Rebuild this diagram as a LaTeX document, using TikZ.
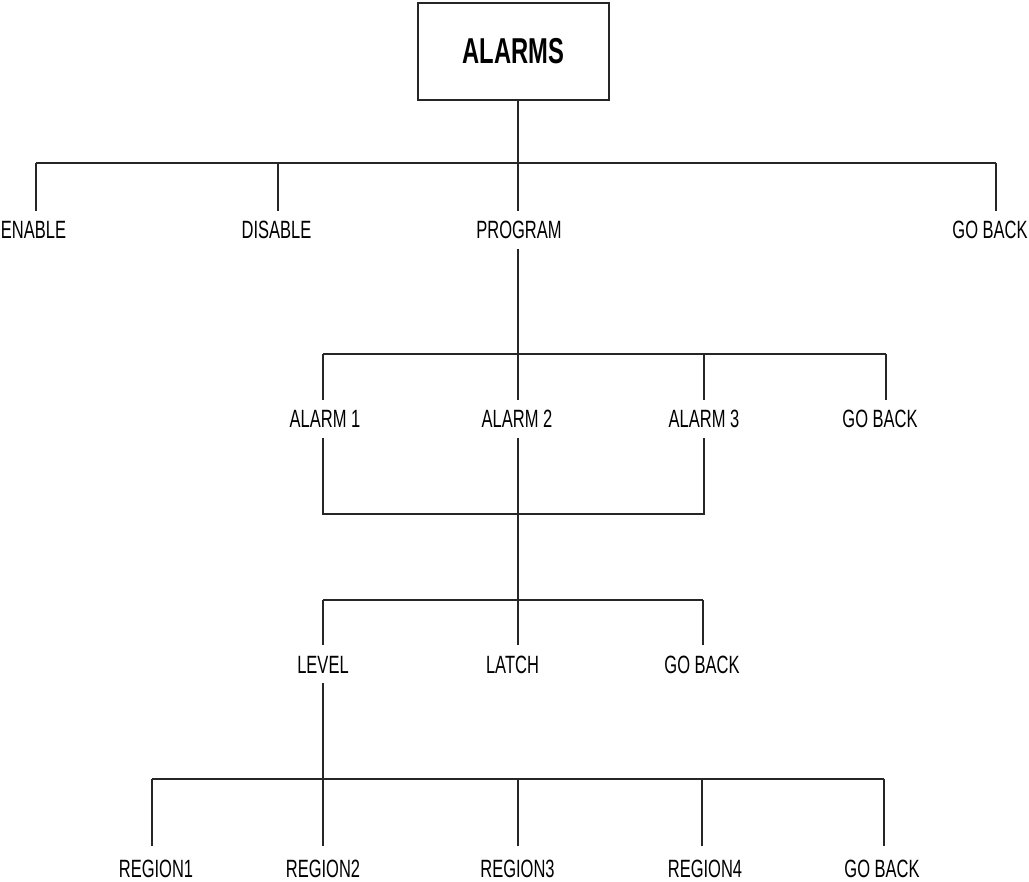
\documentclass[tikz,border=0pt]{standalone}
\usepackage{fontspec}
\setmainfont{Liberation Sans}[FakeStretch=0.66]
\begin{document}
\begin{tikzpicture}[x=1pt,y=-1pt,
  wire/.style={draw=black!85, line width=1.3pt},
  lbl/.style={font=\fontsize{25}{28}\selectfont, anchor=base, text height=17.5pt, text depth=0pt, inner xsep=0pt, inner ysep=10pt},
  lblb/.style={lbl, inner ysep=13pt},
  topbox/.style={draw=black!85, line width=1.3pt, minimum width=191pt, minimum height=97pt, inner sep=0pt, font=\fontsize{36}{40}\selectfont\bfseries}]
\useasboundingbox (0,0) rectangle (1029,882);

% top
\node[topbox] (alarms) at (513.5,51.5) {ALARMS};

% level 1
\node[lbl] (enable)  at (33.5,239) {ENABLE};
\node[lbl] (disable) at (276.5,239) {DISABLE};
\node[lbl] (program) at (519,239) {PROGRAM};
\node[lbl] (goback1) at (990,239) {GO BACK};
\coordinate (b1a) at (36,163);
\coordinate (b1b) at (278,163);
\coordinate (t1)  at (518,163);
\coordinate (b1d) at (996,163);
\draw[wire] (alarms.south -| t1) -- (t1);
\draw[wire] (b1a) -- (b1d);
\draw[wire] (b1a) -- (b1a |- enable.north);
\draw[wire] (b1b) -- (b1b |- disable.north);
\draw[wire] (t1) -- (t1 |- program.north);
\draw[wire] (b1d) -- (b1d |- goback1.north);

% level 2
\node[lbl] (alarm1)  at (325,428) {ALARM 1};
\node[lbl] (alarm2)  at (517,428) {ALARM 2};
\node[lbl] (alarm3)  at (704,428) {ALARM 3};
\node[lbl] (goback2) at (880,428) {GO BACK};
\coordinate (b2a) at (323,354);
\coordinate (t2)  at (518,354);
\coordinate (b2c) at (704,354);
\coordinate (b2d) at (886,354);
\draw[wire] (program.south -| t2) -- (t2);
\draw[wire] (b2a) -- (b2d);
\draw[wire] (b2a) -- (b2a |- alarm1.north);
\draw[wire] (t2) -- (t2 |- alarm2.north);
\draw[wire] (b2c) -- (b2c |- alarm3.north);
\draw[wire] (b2d) -- (b2d |- goback2.north);

% joining bracket
\coordinate (m1) at (323,514);
\coordinate (m3) at (704,514);
\draw[wire] (alarm1.south -| m1) -- (m1) -- (m3) -- (alarm3.south -| m3);

% level 3
\node[lbl] (level)   at (323,673) {LEVEL};
\node[lbl] (latch)   at (512.5,673) {LATCH};
\node[lbl] (goback3) at (702,673) {GO BACK};
\coordinate (b3a) at (323,600);
\coordinate (t3)  at (518,600);
\coordinate (b3c) at (703,600);
\draw[wire] (alarm2.south -| t3) -- (t3);
\draw[wire] (b3a) -- (b3c);
\draw[wire] (b3a) -- (b3a |- level.north);
\draw[wire] (t3) -- (t3 |- latch.north);
\draw[wire] (b3c) -- (b3c |- goback3.north);

% level 4
\node[lblb] (region1) at (156,877) {REGION1};
\node[lblb] (region2) at (323,877) {REGION2};
\node[lblb] (region3) at (517.5,877) {REGION3};
\node[lblb] (region4) at (705,877) {REGION4};
\node[lblb] (goback4) at (882,877) {GO BACK};
\coordinate (b4a) at (152,779);
\coordinate (t4)  at (323,779);
\coordinate (b4c) at (518,779);
\coordinate (b4d) at (702,779);
\coordinate (b4e) at (884,779);
\draw[wire] (level.south -| t4) -- (t4);
\draw[wire] (b4a) -- (b4e);
\draw[wire] (b4a) -- (b4a |- region1.north);
\draw[wire] (t4) -- (t4 |- region2.north);
\draw[wire] (b4c) -- (b4c |- region3.north);
\draw[wire] (b4d) -- (b4d |- region4.north);
\draw[wire] (b4e) -- (b4e |- goback4.north);
\end{tikzpicture}
\end{document}
